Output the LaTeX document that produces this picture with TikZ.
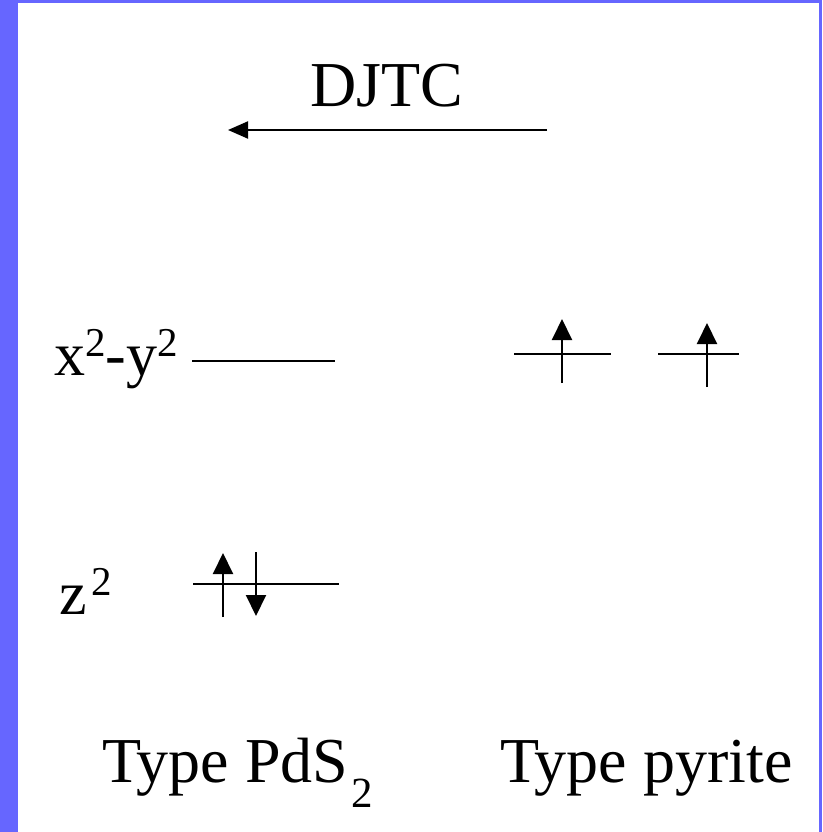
\documentclass[tikz,border=0pt]{standalone}
\usepackage{fontspec}
\setmainfont{Liberation Serif}
\usepackage{tikz}
\usetikzlibrary{positioning, arrows.meta, calc}

\definecolor{framecol}{RGB}{102,102,255}
\newcommand{\bigtext}{\fontsize{64}{76}\selectfont}
\newcommand{\orbtext}{\fontsize{62}{72}\selectfont}
\newcommand{\supdigit}[1]{\raisebox{0.3em}{\fontsize{41}{41}\selectfont #1}}

\tikzset{
  level/.style={line width=2pt},
  spin/.style={line width=2pt, -{Triangle[length=21pt, width=20pt]}},
  label/.style={inner sep=0pt, anchor=base west}
}

\begin{document}
\begin{tikzpicture}[x=1pt, y=-1pt]
      % Frame
      \fill[framecol] (0,0) rectangle (822,832);
      \fill[white] (18,3) rectangle (819,832);
      \useasboundingbox (0,0) rectangle (822,832);

      % DJTC arrow
      \node[inner sep=0pt, anchor=base] (djtc) at (387,107) {\bigtext DJTC};
      \coordinate (djtcstart) at (547,130);
      \coordinate (djtcend) at (228,130);
      \draw[line width=2pt, -{Triangle[length=20pt, width=17pt]}] (djtcstart) -- (djtcend);

      % Labels of the levels
      \node[label] (xylabel) at (54,375) {\orbtext x\supdigit{2}-y\supdigit{2}};
      \node[label] (zlabel) at (59,614) {\orbtext z\kern5pt\supdigit{2}};

      % PdS2 levels
      \draw[level] (192,361) -- (335,361);
      \draw[level] (193,584) -- (339,584);
      \coordinate (upone) at (223,617);
      \coordinate (uponeend) at (223,553);
      \coordinate (downone) at (256,552);
      \coordinate (downoneend) at (256,616);
      \draw[spin] (upone) -- (uponeend);
      \draw[spin] (downone) -- (downoneend);

      % Pyrite levels
      \draw[level] (514,354) -- (611,354);
      \draw[level] (658,354) -- (739,354);
      \coordinate (uptwo) at (562,383);
      \coordinate (uptwoend) at (562,319);
      \coordinate (upthree) at (707,387);
      \coordinate (upthreeend) at (707,323);
      \draw[spin] (uptwo) -- (uptwoend);
      \draw[spin] (upthree) -- (upthreeend);

      % Names
      \node[label] (pds) at (102,782) {\bigtext Type PdS\kern3pt\raisebox{-0.4em}{\fontsize{43}{43}\selectfont 2}};
      \node[label] (pyrite) at (500,782) {\bigtext Type pyrite};
    \end{tikzpicture}
\end{document}
